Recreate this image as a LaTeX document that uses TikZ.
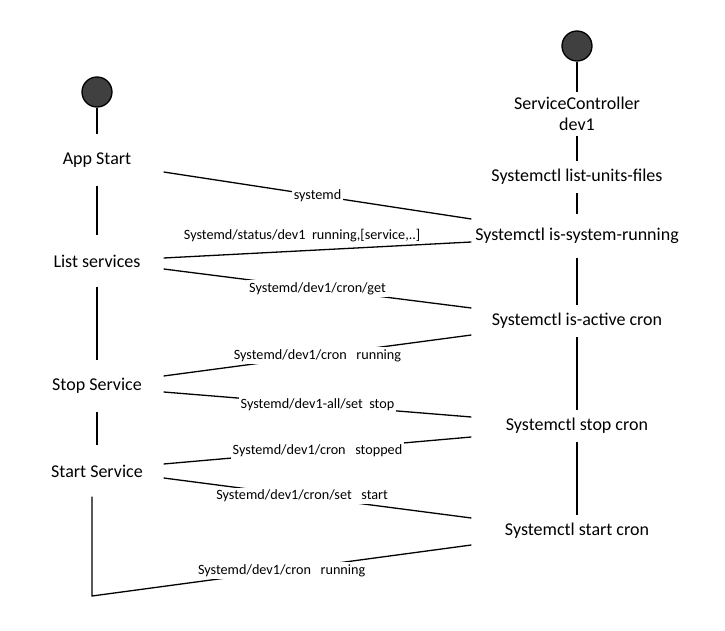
\documentclass[tikz,border=0pt]{standalone}
\usepackage{fontspec}
\setmainfont{Carlito}
\usetikzlibrary{positioning}
\definecolor{DotGrey}{HTML}{404040}

\begin{document}
\begin{tikzpicture}[x=0.5pt,y=-0.5pt,line width=0.65pt,
    startdot/.style={circle,draw,fill=DotGrey,minimum size=15pt,inner sep=0pt},
    appstep/.style={minimum width=66pt,minimum height=25pt,inner sep=0pt,
                    font=\fontsize{9}{10.5}\selectfont},
    ctlstep/.style={minimum width=105pt,minimum height=15.5pt,inner sep=0pt,
                    font=\fontsize{9}{10.5}\selectfont},
    msg/.style={fill=white,inner sep=1pt,font=\fontsize{7.1}{8.5}\selectfont}]
  \useasboundingbox (0,0) rectangle (725,631);

  % app side
  \node[startdot] (ldot) at (97,92) {};
  \node[appstep] (app) at (97,160) {App Start};
  \node[appstep] (list) at (97,261) {List services};
  \node[appstep] (stop) at (97,386) {Stop Service};
  \node[appstep] (startsvc) at (97,471) {Start Service};
  \coordinate (corner) at (92,596);

  % controller side
  \node[startdot] (rdot) at (577,46) {};
  \node[ctlstep,align=center,minimum height=21pt] (ctrl) at (577,114) {ServiceController\\dev1};
  \node[ctlstep] (units) at (577,177) {Systemctl list-units-files};
  \node[ctlstep,minimum height=21pt] (sysrun) at (577,236) {Systemctl is-system-running};
  \node[ctlstep] (active) at (577,321) {Systemctl is-active cron};
  \node[ctlstep] (stopc) at (577,426) {Systemctl stop cron};
  \node[ctlstep] (startc) at (577,531) {Systemctl start cron};

  % lifelines
  \draw (ldot) -- (app) -- (list) -- (stop) -- (startsvc);
  \draw (rdot) -- (ctrl) -- (units) -- (sysrun) -- (active) -- (stopc) -- (startc);

  % messages
  \draw ([yshift=-6pt]app.east) -- node[msg]{systemd} ([yshift=8.5pt]sysrun.west);
  \draw ([yshift=-3pt]sysrun.west) -- node[msg,pos=0.55,above=3pt]{Systemd/status/dev1~~running,[service,..]} ([yshift=1.5pt]list.east);
  \draw ([yshift=-4pt]list.east) -- node[msg]{Systemd/dev1/cron/get} ([yshift=6.5pt]active.west);
  \draw ([yshift=-7pt]active.west) -- node[msg]{Systemd/dev1/cron~~~running} ([yshift=5pt]stop.east);
  \draw ([yshift=-3pt]stop.east) -- node[msg]{Systemd/dev1-all/set~~stop} ([yshift=4.5pt]stopc.west);
  \draw ([yshift=-5.5pt]stopc.west) -- node[msg]{Systemd/dev1/cron~~~stopped} ([yshift=3.5pt]startsvc.east);
  \draw ([yshift=-3.5pt]startsvc.east) -- node[msg,pos=0.45]{Systemd/dev1/cron/set~~~start} ([yshift=6.5pt]startc.west);
  \draw ([yshift=-7pt]startc.west) -- node[msg]{Systemd/dev1/cron~~~running} (corner)
    -- ([xshift=-2.5pt]startsvc.south);
\end{tikzpicture}
\end{document}
